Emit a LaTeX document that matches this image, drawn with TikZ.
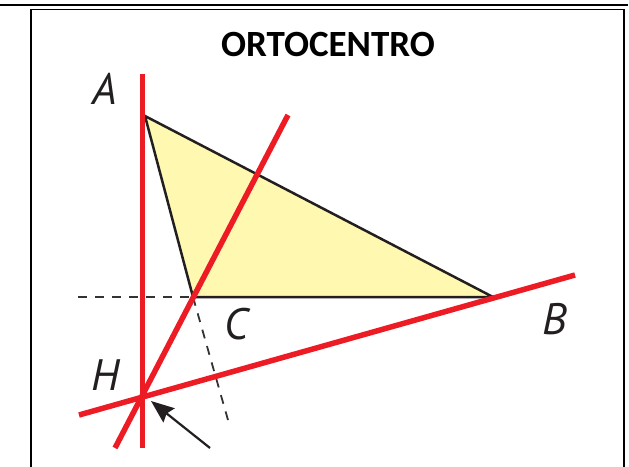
\documentclass[tikz,border=0pt]{standalone}
\usepackage{fontspec}
\usetikzlibrary{arrows.meta}
\newfontfamily\titlefont{Carlito}
\newfontfamily\labfont{PT Sans}
\definecolor{tri}{HTML}{FFF8B0}
\definecolor{redl}{HTML}{ED1C24}
\definecolor{ink}{HTML}{231F20}
\definecolor{dashc}{HTML}{333333}
\tikzset{
  redline/.style={draw=redl,line width=5.5pt},
  dashline/.style={draw=dashc,line width=1.8pt,dash pattern=on 9pt off 8pt},
  lab/.style={inner sep=0pt,text=ink,font=\labfont\itshape\fontsize{44}{44}\selectfont},
  ttl/.style={inner sep=0pt,font=\titlefont\bfseries\fontsize{37}{37}\selectfont},
  frame/.style={draw=black,line width=1.5pt}
}
\begin{document}
\begin{tikzpicture}[x=1pt,y=-1pt]
\useasboundingbox (0,0) rectangle (629,466);
% frame
\draw[black,line width=2.5pt] (0,5) -- (628,5);
\draw[frame] (31,467) -- (31,9.5) -- (624,9.5) -- (624,467);
\node[ttl] (title) at (328,44) {ORTOCENTRO};
% points
\coordinate (A) at (145,116);
\coordinate (B) at (493,297);
\coordinate (C) at (193,297);
\coordinate (H) at (142.5,397);
\coordinate (dl) at (78,297);
\coordinate (de) at (228,420);
\coordinate (v1) at (142.5,74);
\coordinate (v2) at (142.5,448);
\coordinate (c1) at (288,115);
\coordinate (c2) at (115,448);
\coordinate (b1) at (79,415);
\coordinate (b2) at (575,275);
\coordinate (arr) at (210,448);
\coordinate (tip) at (151,401);
\begin{scope}
\clip (31,9.5) rectangle (624,448);
\fill[tri] (A) -- (B) -- (C) -- cycle;
\draw[ink,line width=2.5pt,line join=miter] (A) -- (B) -- (C) -- cycle;
\draw[dashline] (dl) -- (C);
\draw[dashline] (C) -- (de);
\draw[redline] (v1) -- (v2);
\draw[redline] (c1) -- (c2);
\draw[redline] (b1) -- (b2);
\draw[ink,line width=2.2pt,-{Stealth[length=23pt,width=18pt,inset=3pt]}] (arr) -- (tip);
\end{scope}
% labels
\node[lab] (lA) at (105,89) {A};
\node[lab] (lB) at (555,319) {B};
\node[lab] (lC) at (236,324) {C};
\node[lab] (lH) at (106,375) {H};
\end{tikzpicture}
\end{document}
